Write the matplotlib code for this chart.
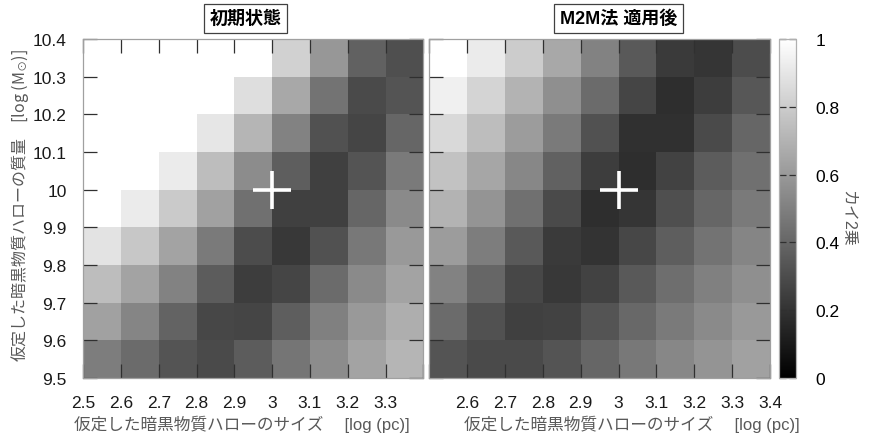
import numpy as np
import matplotlib
matplotlib.use('agg')
import matplotlib.pyplot as plt

plt.rcParams['font.family'] = ['Liberation Sans', 'Noto Sans CJK JP', 'DejaVu Sans']
plt.rcParams['mathtext.fontset'] = 'custom'
plt.rcParams['mathtext.rm'] = 'Noto Sans CJK JP'
plt.rcParams['mathtext.it'] = 'Noto Sans CJK JP'
plt.rcParams['mathtext.fallback'] = 'stixsans'

# cell edges: halo size [log pc] and halo mass [log Msun]
size_edges = [2.5, 2.6, 2.7, 2.8, 2.9, 3.0, 3.1, 3.2, 3.3, 3.4]
mass_edges = [9.5, 9.6, 9.7, 9.8, 9.9, 10.0, 10.1, 10.2, 10.3, 10.4]
true_size = 3.0
true_mass = 10.0

# chi^2 (normalised), rows from mass 9.55 (bottom) up to 10.35 (top)
chi2_init = [
    [0.49, 0.42, 0.33, 0.29, 0.36, 0.46, 0.55, 0.64, 0.71],
    [0.63, 0.52, 0.39, 0.28, 0.27, 0.37, 0.50, 0.60, 0.68],
    [0.74, 0.64, 0.51, 0.36, 0.24, 0.27, 0.42, 0.54, 0.64],
    [0.89, 0.78, 0.64, 0.48, 0.30, 0.22, 0.32, 0.47, 0.60],
    [1.00, 0.92, 0.79, 0.63, 0.44, 0.25, 0.25, 0.40, 0.54],
    [1.00, 1.00, 0.92, 0.74, 0.55, 0.37, 0.25, 0.33, 0.48],
    [1.00, 1.00, 1.00, 0.90, 0.71, 0.51, 0.32, 0.27, 0.40],
    [1.00, 1.00, 1.00, 1.00, 0.87, 0.66, 0.45, 0.29, 0.33],
    [1.00, 1.00, 1.00, 1.00, 1.00, 0.82, 0.59, 0.38, 0.31],
]
chi2_m2m = [
    [0.33, 0.29, 0.29, 0.33, 0.40, 0.47, 0.53, 0.58, 0.63],
    [0.42, 0.32, 0.25, 0.26, 0.33, 0.41, 0.48, 0.54, 0.60],
    [0.51, 0.40, 0.28, 0.22, 0.26, 0.35, 0.43, 0.50, 0.56],
    [0.61, 0.49, 0.35, 0.23, 0.20, 0.28, 0.37, 0.45, 0.52],
    [0.70, 0.58, 0.44, 0.29, 0.18, 0.21, 0.31, 0.40, 0.48],
    [0.76, 0.65, 0.53, 0.38, 0.24, 0.18, 0.26, 0.36, 0.44],
    [0.85, 0.74, 0.61, 0.48, 0.32, 0.19, 0.19, 0.29, 0.40],
    [0.94, 0.83, 0.70, 0.56, 0.42, 0.27, 0.18, 0.24, 0.34],
    [1.00, 0.92, 0.80, 0.66, 0.51, 0.35, 0.23, 0.21, 0.30],
]

size_ticklabels = ['2.5', '2.6', '2.7', '2.8', '2.9', '3', '3.1', '3.2', '3.3', '3.4']
mass_ticklabels = ['9.5', '9.6', '9.7', '9.8', '9.9', '10', '10.1', '10.2', '10.3', '10.4']
cbar_ticks = [0, 0.2, 0.4, 0.6, 0.8, 1]
cbar_ticklabels = ['0', '0.2', '0.4', '0.6', '0.8', '1']

W, H = 873, 439
fig = plt.figure(figsize=(W / 100, H / 100), dpi=100)

def fx(px):
    return px / W

def fy(py):
    return 1 - py / H

ax_b, ax_t = fy(379), fy(40)
ax1 = fig.add_axes([fx(83.3), ax_b, fx(423.3) - fx(83.3), ax_t - ax_b])
ax2 = fig.add_axes([fx(429.3), ax_b, fx(770) - fx(429.3), ax_t - ax_b])
cax = fig.add_axes([fx(779.3), ax_b, fx(795.7) - fx(779.3), ax_t - ax_b])

fsize = 12.5
labcol = '#595959'

for ax, z in [(ax1, chi2_init), (ax2, chi2_m2m)]:
    mesh = ax.pcolormesh(size_edges, mass_edges, np.array(z), cmap='gray',
                         vmin=0, vmax=1, shading='flat')
    ax.plot([true_size], [true_mass], marker='+', color='white',
            markersize=27, mew=2.6)
    ax.set_xlim(size_edges[0], size_edges[-1])
    ax.set_ylim(mass_edges[0], mass_edges[-1])
    ax.set_xticks(size_edges)
    ax.set_yticks(mass_edges)
    ax.tick_params(direction='in', length=10, width=0.9, color='#303030',
                   top=True, right=True, labelsize=fsize, labelcolor='#1a1a1a')
    ax.tick_params(axis='x', pad=12)
    ax.tick_params(axis='y', pad=12)
    for s in ax.spines.values():
        s.set_color('#a0a0a0')
        s.set_linewidth(0.9)

ax1.set_xticklabels(size_ticklabels[:-1] + [''])
ax1.set_yticklabels(mass_ticklabels)
ax2.set_xticklabels([''] + size_ticklabels[1:])
ax2.set_yticklabels([])

cb = fig.colorbar(mesh, cax=cax, ticks=cbar_ticks)
cb.ax.set_yticklabels(cbar_ticklabels)
cb.ax.tick_params(direction='in', length=5, width=0.9, color='#303030',
                  left=True, right=True, labelsize=fsize, pad=14)
cb.outline.set_edgecolor('#b0b0b0')
cb.outline.set_linewidth(0.9)
fig.text(fx(848), fy(218), 'カイ2乗', rotation=270, ha='center', va='center',
         fontsize=11.5, color=labcol)

box = dict(boxstyle='square,pad=0.3', fc='white', ec='#404040', lw=0.9)
fig.text(fx(245.7), fy(19.5), '初期状態', ha='center', va='center',
         fontsize=13, fontweight='bold', bbox=box)
fig.text(fx(618.5), fy(19.5), 'M2M法 適用後', ha='center', va='center',
         fontsize=13, fontweight='bold', bbox=box)

xlab = '仮定した暗黒物質ハローのサイズ　 [log (pc)]'
fig.text(fx(242), fy(424), xlab, ha='center', va='center',
         fontsize=12, color=labcol)
fig.text(fx(631.7), fy(424), xlab, ha='center', va='center',
         fontsize=12, color=labcol)
fig.text(fx(20), fy(205), r'仮定した暗黒物質ハローの質量　[log (M$_{\odot}$)]',
         rotation=90, ha='center', va='center', fontsize=11.5, color=labcol,
         family='Noto Sans CJK JP')

plt.savefig('out.png', dpi=100)
